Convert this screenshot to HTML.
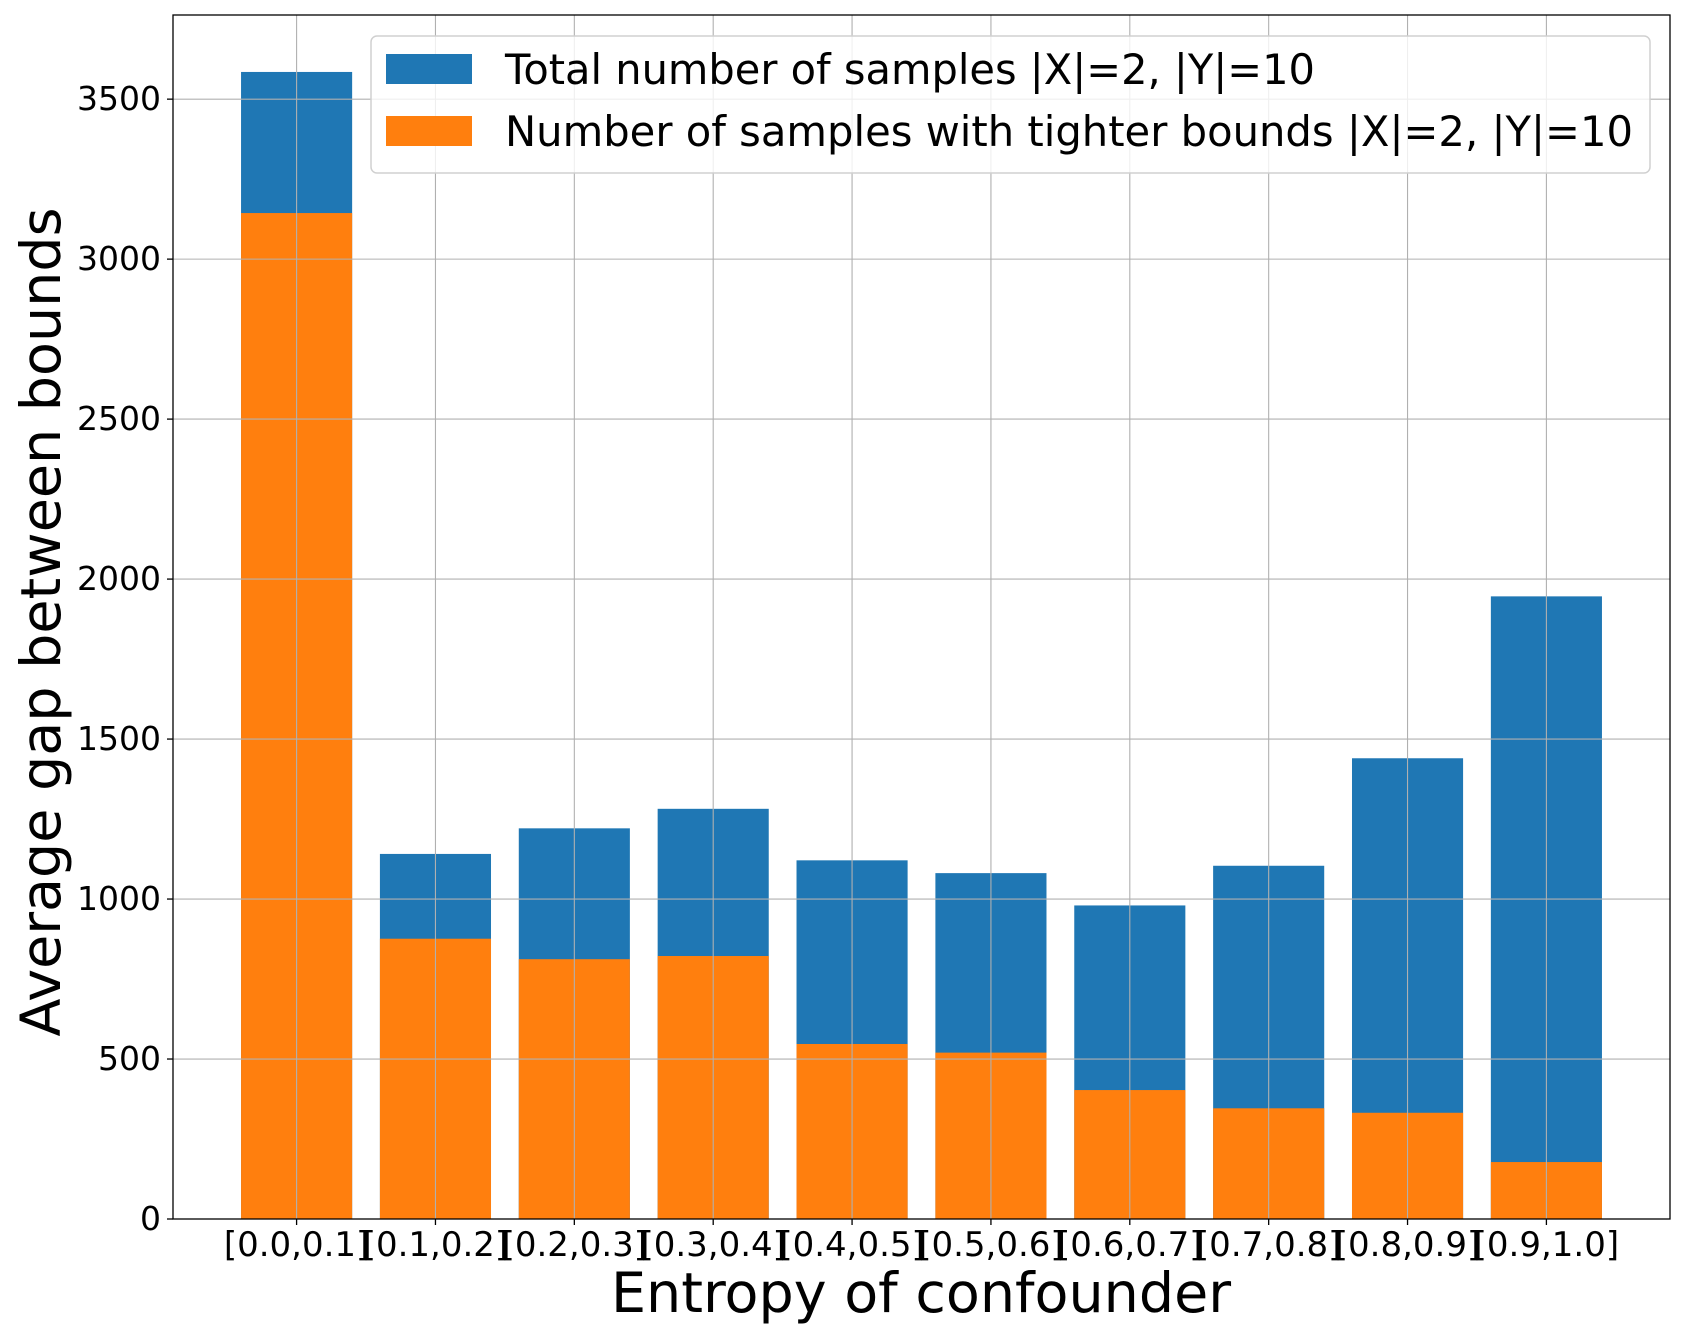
<!DOCTYPE html>
<html><head><meta charset="utf-8"><style>
html,body{margin:0;padding:0;background:#fff;}
svg{display:block;font-family:"DejaVu Sans","Liberation Sans",sans-serif;}
</style></head><body>
<svg id="chart" width="1682" height="1337" viewBox="0 0 1682 1337" xmlns="http://www.w3.org/2000/svg">
<rect width="1682" height="1337" fill="#fff"/>
<g id="bars"></g>
<g id="grid"></g>
<g id="axes"></g>
<g id="legend">
  <rect x="371" y="36" width="1279" height="137" rx="6" fill="#fff" fill-opacity="0.8" stroke="#d0d0d0" stroke-width="1.5"/>
  <rect x="386" y="54" width="86" height="30" fill="#1f77b4"/>
  <text x="505" y="84" font-size="41.5" fill="#000" textLength="810" lengthAdjust="spacingAndGlyphs">Total number of samples |X|=2, |Y|=10</text>
  <rect x="386" y="116" width="86" height="30" fill="#ff7f0e"/>
  <text x="505" y="146" font-size="41.5" fill="#000" textLength="1128" lengthAdjust="spacingAndGlyphs">Number of samples with tighter bounds |X|=2, |Y|=10</text>
</g>
<text transform="translate(60,622) rotate(-90)" text-anchor="middle" font-size="55.5">Average gap between bounds</text>
<text x="921" y="1312" text-anchor="middle" font-size="55.5">Entropy of confounder</text>
</svg>
<script>
const categories = ["[0.0,0.1]","[0.1,0.2]","[0.2,0.3]","[0.3,0.4]","[0.4,0.5]","[0.5,0.6]","[0.6,0.7]","[0.7,0.8]","[0.8,0.9]","[0.9,1.0]"];
const totalSamples = [3585,1141,1221,1282,1121,1081,980,1104,1440,1946];
const tighterSamples = [3144,876,812,822,547,520,403,346,332,178];
const yTicks = [0,500,1000,1500,2000,2500,3000,3500];

const NS = "http://www.w3.org/2000/svg";
const L = 173, R = 1670, T = 15, B = 1219;
const xMin = -0.89, xMax = 9.89, yMax = 3763;
function xs(i){ return L + (i - xMin) / (xMax - xMin) * (R - L); }
function ys(v){ return B - v / yMax * (B - T); }
const bw = 0.8 * (xs(1) - xs(0));
function mk(tag, attrs, parent){ const e = document.createElementNS(NS, tag); for (const k in attrs) e.setAttribute(k, attrs[k]); parent.appendChild(e); return e; }

const bars = document.getElementById('bars');
categories.forEach((c, i) => {
  const b = mk('rect', {x: xs(i) - bw/2, y: ys(totalSamples[i]), width: bw, height: ys(0) - ys(totalSamples[i]), fill: '#1f77b4'}, bars);
  
  
  const o = mk('rect', {x: xs(i) - bw/2, y: ys(tighterSamples[i]), width: bw, height: ys(0) - ys(tighterSamples[i]), fill: '#ff7f0e'}, bars);
  
  
});

const grid = document.getElementById('grid');
categories.forEach((c, i) => {
  const g = mk('line', {x1: xs(i), x2: xs(i), y1: T, y2: B, stroke: '#b0b0b0', 'stroke-width': 1.1}, grid);
  
  
});
yTicks.forEach(v => {
  const g = mk('line', {x1: L, x2: R, y1: ys(v), y2: ys(v), stroke: '#b0b0b0', 'stroke-width': 1.1}, grid);
  
  
});

const axes = document.getElementById('axes');
const frame = mk('rect', {x: L, y: T, width: R - L, height: B - T, fill: 'none', stroke: '#000', 'stroke-width': 1.3}, axes);


yTicks.forEach(v => {
  mk('line', {x1: L - 6, x2: L, y1: ys(v), y2: ys(v), stroke: '#000', 'stroke-width': 1.3}, axes);
  const t = mk('text', {x: L - 12, y: ys(v) + 11, 'text-anchor': 'end', 'font-size': 33}, axes);
  
  
  t.textContent = v;
});
categories.forEach((c, i) => {
  mk('line', {x1: xs(i), x2: xs(i), y1: B, y2: B + 6, stroke: '#000', 'stroke-width': 1.3}, axes);
  const t = mk('text', {x: xs(i), y: B + 37, 'text-anchor': 'middle', 'font-size': 34}, axes);
  
  
  t.textContent = c;
});
</script>
</body></html>
